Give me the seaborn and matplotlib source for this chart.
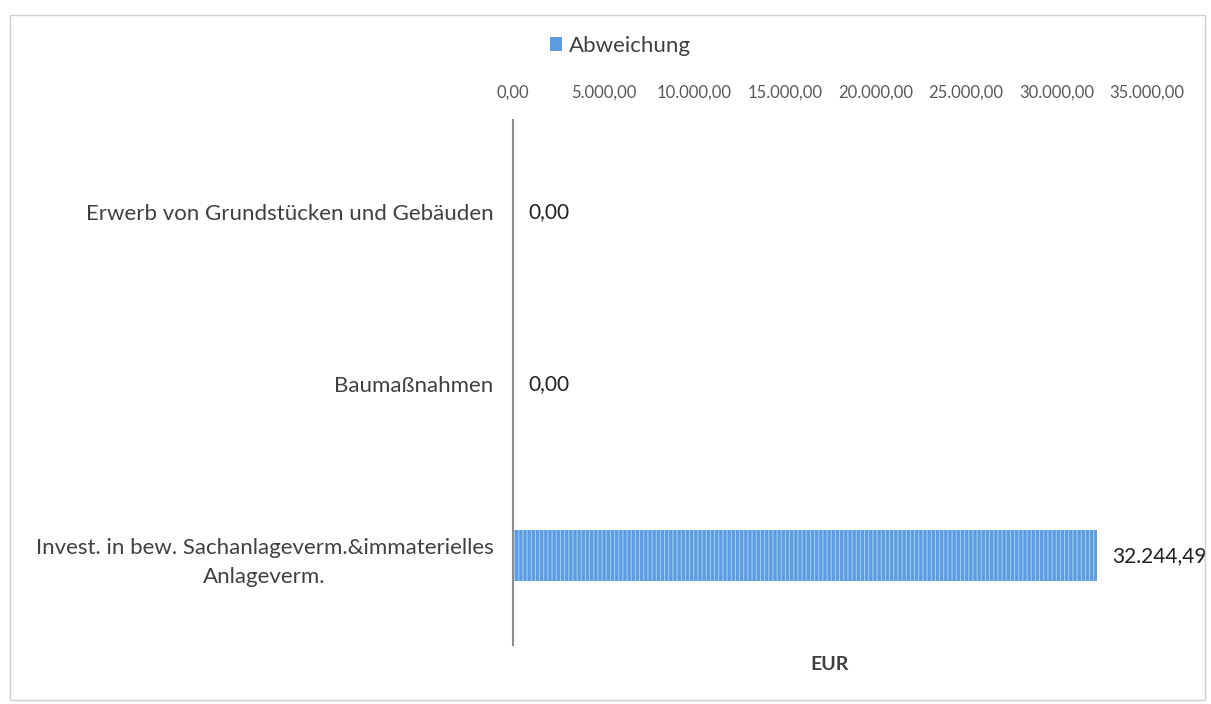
import matplotlib
matplotlib.use("Agg")
import matplotlib.pyplot as plt
import seaborn as sns
import pandas as pd
from matplotlib.patches import Rectangle, Patch

categories = [
    "Erwerb von Grundstücken und Gebäuden",
    "Baumaßnahmen",
    "Invest. in bew. Sachanlageverm.&immaterielles\nAnlageverm.",
]
values = [0.00, 0.00, 32244.49]
series_name = "Abweichung"
xticks = [0, 5000, 10000, 15000, 20000, 25000, 30000, 35000]
x_label = "EUR"

def de_fmt(v):
    s = f"{v:,.2f}"
    return s.replace(",", "X").replace(".", ",").replace("X", ".")

sns.set_theme(style="white")
plt.rcParams["font.family"] = ["Lato", "DejaVu Sans"]
plt.rcParams["hatch.linewidth"] = 0.7

df = pd.DataFrame({"cat": categories, "val": values})

fig = plt.figure(figsize=(12.11, 7.04), dpi=100)
ax = fig.add_axes([0.4236, 0.0838, 0.5235, 0.7457])

bar_color = "#5b9de0"
sns.barplot(data=df, x="val", y="cat", orient="h", color=bar_color,
            width=0.30, ax=ax, saturation=1)
for p in ax.patches:
    p.set_hatch("||||")
    p.set_edgecolor("#a8d0f5")
    p.set_linewidth(0.0)

ax.set_xlim(0, 35000)
ax.set_ylim(2.52, -0.535)
ax.set_xticks(xticks)
ax.set_xticklabels([de_fmt(t) for t in xticks], fontsize=12, color="#595959")
ax.xaxis.tick_top()
ax.tick_params(axis="x", length=0, pad=14)
ax.tick_params(axis="y", length=0, pad=14, labelsize=16, labelcolor="#404040")
ax.set_ylabel("")
ax.set_xlabel(x_label, fontsize=14, fontweight="bold", color="#404040", labelpad=8)
ax.xaxis.set_label_position("bottom")

for s in ["top", "right", "bottom"]:
    ax.spines[s].set_visible(False)
ax.spines["left"].set_color("#8c8c8c")
ax.spines["left"].set_linewidth(1.5)

for c in ax.containers:
    ax.bar_label(c, labels=[de_fmt(v) for v in values], padding=11,
                 fontsize=15, color="#202020")

for t in ax.get_yticklabels():
    t.set_horizontalalignment("right")
    t.set_multialignment("center")
    t.set_linespacing(1.6)

handle = Patch(facecolor=bar_color, edgecolor="none")
ax.legend([handle], [series_name], loc="center", bbox_to_anchor=(0.512, 0.935),
          bbox_transform=fig.transFigure, frameon=False, fontsize=16,
          handlelength=0.55, handleheight=0.55, handletextpad=0.3,
          labelcolor="#404040")

fig.patches.append(Rectangle((0.008, 0.005), 0.987, 0.973, transform=fig.transFigure,
                             fill=False, edgecolor="#d0d0d0", linewidth=1.0))

fig.savefig("out.png", dpi=100, facecolor="white")
